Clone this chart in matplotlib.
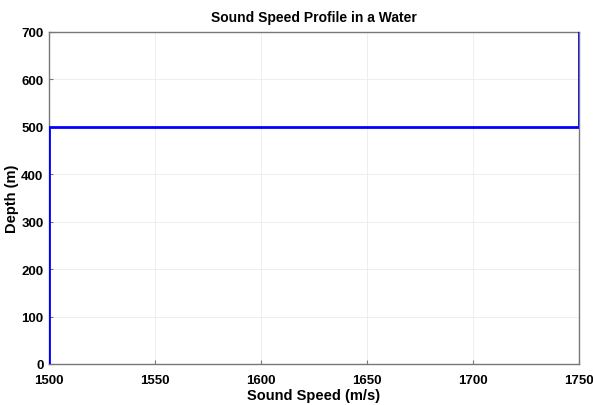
import matplotlib
matplotlib.use("Agg")
import matplotlib.pyplot as plt

speed = [1500, 1500, 1750, 1750]
depth = [0, 500, 500, 700]
xticks = [1500, 1550, 1600, 1650, 1700, 1750]
yticks = [0, 100, 200, 300, 400, 500, 600, 700]

plt.rcParams['font.family'] = ['Liberation Sans', 'DejaVu Sans']
plt.rcParams['font.weight'] = 'bold'

fig = plt.figure(figsize=(5.93, 4.06), dpi=100)
ax = fig.add_axes([0.0826, 0.101, 0.894, 0.818])
ax.plot(speed, depth, color='#0000ff', lw=2, zorder=3)
ax.set_xlim(1500, 1750)
ax.set_ylim(0, 700)
ax.set_xticks(xticks)
ax.set_yticks(yticks)
ax.grid(True, color='#ebebeb', lw=0.6)
for s in ax.spines.values():
    s.set_color('#777777')
    s.set_linewidth(1.0)
ax.tick_params(direction='in', length=3, color='#777777', labelsize=9.5)
ax.tick_params(axis='x', pad=7)
ax.tick_params(axis='y', pad=4)
for lab in ax.get_xticklabels() + ax.get_yticklabels():
    lab.set_fontweight('bold')
ax.set_title('Sound Speed Profile in a Water', fontsize=10, fontweight='bold', pad=8)
ax.set_xlabel('Sound Speed (m/s)', fontsize=10.5, fontweight='bold', labelpad=2)
ax.set_ylabel('Depth (m)', fontsize=10.5, fontweight='bold')
ax.yaxis.set_label_coords(-0.056, 0.5)
fig.savefig('out.png', dpi=100)
